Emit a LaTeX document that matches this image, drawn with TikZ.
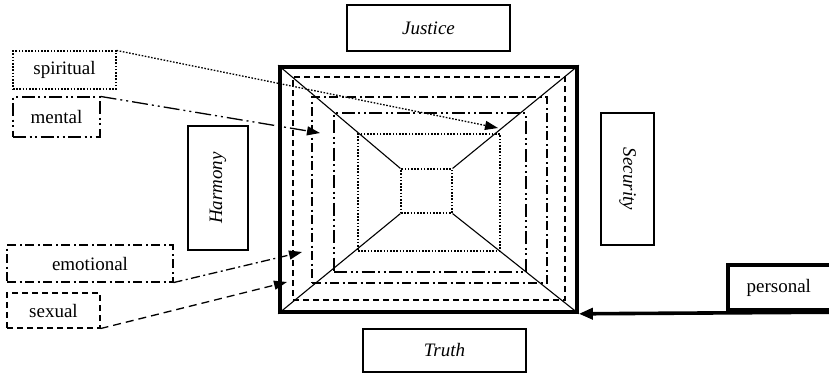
\documentclass[tikz,border=0pt]{standalone}
\usepackage{fontspec}
\setmainfont{Liberation Serif}
\usetikzlibrary{arrows.meta}
\begin{document}
\begin{tikzpicture}[x=1pt,y=-1pt,
  every node/.style={font=\fontsize{19}{22}\selectfont, inner sep=0pt},
  box/.style={draw, line width=1.1pt, rectangle},
  virtue/.style={box, font=\fontsize{19}{22}\selectfont\itshape},
  sexualline/.style={dash pattern=on 6pt off 4pt},
  emotionalline/.style={dash pattern=on 9pt off 3.5pt on 2pt off 3.5pt},
  mentalline/.style={dash pattern=on 13pt off 3.5pt on 2pt off 3.5pt on 2pt off 3.5pt},
  spiritualline/.style={dash pattern=on 1.6pt off 1.6pt},
  layer/.style={draw, line width=1.1pt, rectangle},
  link/.style={line width=1.3pt, -{Triangle[length=13pt,width=9pt]}},
  heavy/.style={line width=3.6pt}
]
\useasboundingbox (0,0) rectangle (829,376);
\clip (0,0) rectangle (829,376);

% nested layers of the square
\node[layer, heavy, minimum width=297pt, minimum height=245pt] (outer) at (428.5,189.5) {};
\node[layer, sexualline, minimum width=272pt, minimum height=223pt] (r1) at (429,188.5) {};
\node[layer, emotionalline, minimum width=235pt, minimum height=186pt] (r2) at (429.5,190) {};
\node[layer, mentalline, minimum width=192pt, minimum height=159pt] (r3) at (430,192.5) {};
\node[layer, spiritualline, minimum width=142pt, minimum height=117pt] (r4) at (429,192.5) {};
\node[layer, spiritualline, minimum width=51pt, minimum height=44pt] (core) at (426.5,191) {};

% diagonals from the corners to the core
\draw[line width=1.1pt] (outer.north west) -- (core.north west);
\draw[line width=1.1pt] (outer.north east) -- (core.north east);
\draw[line width=1.1pt] (outer.south west) -- (core.south west);
\draw[line width=1.1pt] (outer.south east) -- (core.south east);

% the four virtues
\node[virtue, minimum width=163pt, minimum height=46pt] (justice) at (428.5,28) {Justice};
\node[virtue, minimum width=163pt, minimum height=43pt] (truth) at (444.5,350.5) {Truth};
\node[virtue, minimum width=60pt, minimum height=124pt] (harmony) at (218,188) {\rotatebox{90}{Harmony}};
\node[virtue, minimum width=53pt, minimum height=132pt] (security) at (627.5,179) {\rotatebox{-90}{Security}};

% the level labels
\node[box, spiritualline, minimum width=103pt, minimum height=38pt] (spiritual) at (64.5,70) {spiritual};
\node[box, mentalline, minimum width=87pt, minimum height=40pt] (mental) at (56.5,117) {mental};
\node[box, emotionalline, minimum width=166pt, minimum height=37pt] (emotional) at (90,263.5) {emotional};
\node[box, sexualline, minimum width=93pt, minimum height=35pt] (sexual) at (53.5,310.5) {sexual};
\node[draw, heavy, anchor=south west, minimum width=130pt, minimum height=45pt] (personal) at (726,312) {personal\kern28pt\relax};

% arrow ends inside the square
\coordinate (spiritualend) at (498,128);
\coordinate (mentalend) at (320,133);
\coordinate (emotionalend) at (302,252);
\coordinate (sexualend) at (287,282);

\draw[link, spiritualline] (spiritual.north east) -- (spiritualend);
\draw[link, mentalline, dash pattern=on 16pt off 4pt on 2pt off 4pt on 2pt off 4pt] (mental.north east) -- (mentalend);
\draw[link, emotionalline] (emotional.south east) -- (emotionalend);
\draw[link, sexualline, dash pattern=on 8pt off 5pt] (sexual.south east) -- (sexualend);
\draw[heavy, -{Triangle[length=14pt,width=11pt]}] (personal.south east) -- (outer.south east);
\end{tikzpicture}
\end{document}
